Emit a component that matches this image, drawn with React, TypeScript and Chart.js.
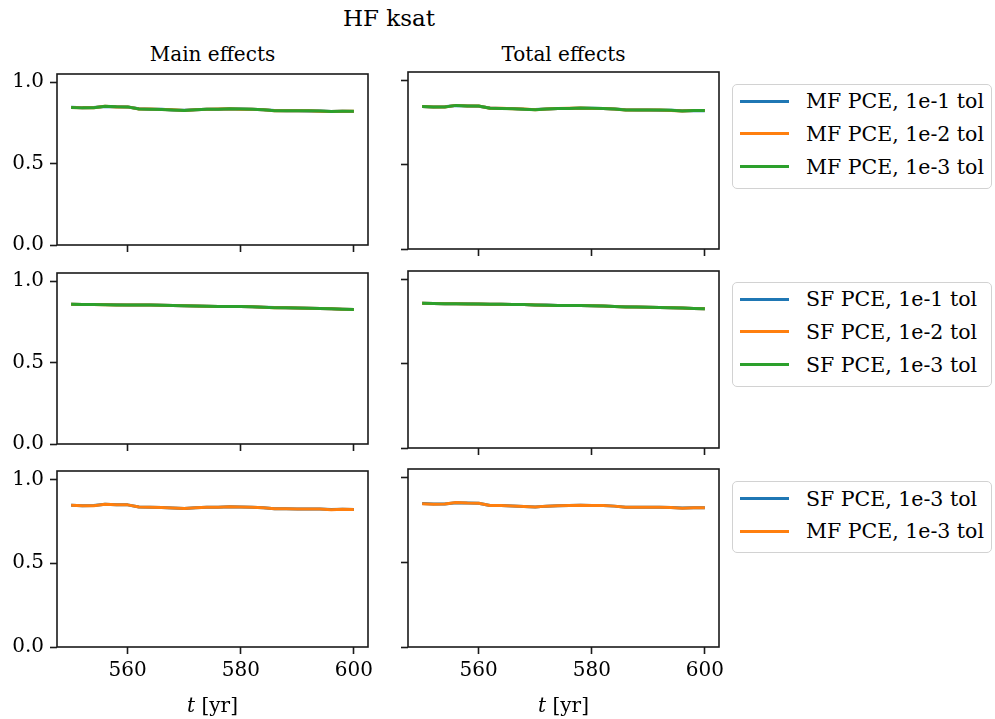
import React, { useEffect, useRef } from "react";
import { Chart, registerables } from "chart.js";

Chart.register(...registerables);

// ---------------- data ----------------
const years = [550, 552, 554, 556, 558, 560, 562, 564, 566, 568, 570, 572, 574, 576, 578, 580, 582, 584, 586, 588, 590, 592, 594, 596, 598, 600];

const mfTol1 = [0.846, 0.843, 0.844, 0.851, 0.849, 0.847, 0.836, 0.834, 0.833, 0.829, 0.827, 0.831, 0.834, 0.834, 0.835, 0.835, 0.833, 0.830, 0.826, 0.825, 0.825, 0.823, 0.823, 0.820, 0.822, 0.820];
const mfTol2 = [0.845, 0.842, 0.843, 0.852, 0.848, 0.848, 0.835, 0.835, 0.832, 0.830, 0.826, 0.830, 0.833, 0.835, 0.836, 0.834, 0.834, 0.831, 0.825, 0.824, 0.824, 0.824, 0.822, 0.819, 0.822, 0.821];
const mfTol3 = [0.845, 0.842, 0.843, 0.852, 0.849, 0.848, 0.835, 0.834, 0.832, 0.829, 0.826, 0.831, 0.833, 0.834, 0.836, 0.835, 0.834, 0.831, 0.825, 0.825, 0.824, 0.824, 0.823, 0.819, 0.822, 0.821];

const sfTol1 = [0.858, 0.857, 0.856, 0.856, 0.855, 0.854, 0.853, 0.853, 0.852, 0.851, 0.849, 0.848, 0.846, 0.845, 0.845, 0.844, 0.843, 0.840, 0.838, 0.836, 0.835, 0.834, 0.832, 0.830, 0.828, 0.826];
const sfTol2 = [0.858, 0.857, 0.856, 0.855, 0.854, 0.854, 0.853, 0.853, 0.852, 0.851, 0.849, 0.847, 0.846, 0.845, 0.845, 0.844, 0.843, 0.840, 0.837, 0.836, 0.835, 0.834, 0.832, 0.830, 0.828, 0.826];
const sfTol3 = [0.858, 0.857, 0.856, 0.855, 0.854, 0.854, 0.853, 0.853, 0.852, 0.851, 0.849, 0.847, 0.846, 0.845, 0.845, 0.844, 0.843, 0.840, 0.837, 0.836, 0.835, 0.834, 0.832, 0.830, 0.828, 0.826];

const cmpSF3 = [0.846, 0.843, 0.844, 0.851, 0.849, 0.848, 0.835, 0.834, 0.832, 0.829, 0.826, 0.831, 0.833, 0.834, 0.836, 0.835, 0.834, 0.831, 0.825, 0.825, 0.824, 0.824, 0.823, 0.820, 0.822, 0.821];
const cmpMF3 = [0.845, 0.842, 0.843, 0.852, 0.849, 0.848, 0.835, 0.834, 0.832, 0.829, 0.826, 0.831, 0.833, 0.834, 0.836, 0.835, 0.834, 0.831, 0.825, 0.825, 0.824, 0.824, 0.823, 0.819, 0.822, 0.821];

const xTicks = [560, 580, 600];
const yTicks = [0, 0.5, 1.0];
const xLimits = [547.5, 602.5];
const yLimits = [0, 1.05];

const figTitle = "HF ksat";
const colTitles = ["Main effects", "Total effects"];

const BLUE = "#1f77b4";
const ORANGE = "#ff7f0e";
const GREEN = "#2ca02c";

type Series = { label: string; data: number[]; color: string };

const rowSeries: Series[][] = [
  [
    { label: "MF PCE, 1e-1 tol", data: mfTol1, color: BLUE },
    { label: "MF PCE, 1e-2 tol", data: mfTol2, color: ORANGE },
    { label: "MF PCE, 1e-3 tol", data: mfTol3, color: GREEN },
  ],
  [
    { label: "SF PCE, 1e-1 tol", data: sfTol1, color: BLUE },
    { label: "SF PCE, 1e-2 tol", data: sfTol2, color: ORANGE },
    { label: "SF PCE, 1e-3 tol", data: sfTol3, color: GREEN },
  ],
  [
    { label: "SF PCE, 1e-3 tol", data: cmpSF3, color: BLUE },
    { label: "MF PCE, 1e-3 tol", data: cmpMF3, color: ORANGE },
  ],
];

// ---------------- layout ----------------
const FONT = "'DejaVu Serif', 'Liberation Serif', serif";
const INK = "#1a1a1a";
const colLeft = [57, 408];
const plotW = 311;
const rowTop = [72, 271, 469];
const rowH = [177, 177, 178];
const Y_AXIS_W = 57;
const PAD_T = 16;
const PAD_R = 22;
const legendTop = [84, 282, 481.3];
const LEG_LEFT = 732;
const LEG_W = 260;
const ROW_GAP = 32.6;
const FIRST_ROW = 17.7;
const LAST_PAD = 21.6;
// DejaVu Serif: baseline sits ~0.84em below top of a line box with line-height = font size
const BASE_K = 0.84;

const framePlugin = {
  id: "frame",
  afterDatasetsDraw(chart: any) {
    const { ctx, chartArea: a } = chart;
    ctx.save();
    ctx.strokeStyle = INK;
    ctx.lineWidth = 1.6;
    ctx.strokeRect(a.left, a.top, a.right - a.left, a.bottom - a.top);
    ctx.restore();
  },
};

function Panel({ row, col }: { row: number; col: number }) {
  const ref = useRef<HTMLCanvasElement>(null);
  const bottomRow = row === 2;
  const leftCol = col === 0;
  const xh = bottomRow ? 50 : 14;
  const W = Y_AXIS_W + plotW + PAD_R;
  const H = PAD_T + rowH[row] + xh;

  useEffect(() => {
    const series = rowSeries[row];
    const chart = new Chart(ref.current as HTMLCanvasElement, {
      type: "line",
      data: {
        datasets: series.map((s, i) => ({
          label: s.label,
          data: years.map((x, j) => ({ x, y: s.data[j] })),
          borderColor: s.color,
          backgroundColor: s.color,
          borderWidth: 3,
          pointRadius: 0,
          tension: 0,
          borderJoinStyle: "round",
          order: series.length - i,
        })),
      },
      options: {
        animation: false,
        responsive: true,
        maintainAspectRatio: false,
        devicePixelRatio: 1,
        events: [],
        layout: { padding: { top: PAD_T, right: PAD_R, left: 0, bottom: 0 } },
        plugins: { legend: { display: false }, tooltip: { enabled: false }, title: { display: false } },
        scales: {
          x: {
            type: "linear",
            min: xLimits[0],
            max: xLimits[1],
            afterBuildTicks: (s: any) => {
              s.ticks = xTicks.map((v) => ({ value: v }));
            },
            afterFit: (s: any) => {
              s.height = xh;
            },
            ticks: {
              display: bottomRow,
              autoSkip: false,
              maxRotation: 0,
              padding: 5,
              color: "#000",
              font: { family: FONT, size: 20 },
              callback: (v: any) => String(v),
            },
            grid: {
              display: true,
              drawOnChartArea: false,
              drawTicks: true,
              tickLength: 7,
              tickWidth: 1.6,
              tickColor: INK,
            },
            border: { display: false },
          },
          y: {
            type: "linear",
            min: yLimits[0],
            max: yLimits[1],
            afterBuildTicks: (s: any) => {
              s.ticks = yTicks.map((v) => ({ value: v }));
            },
            afterFit: (s: any) => {
              s.width = Y_AXIS_W;
            },
            ticks: {
              display: leftCol,
              padding: 6,
              color: "#000",
              font: { family: FONT, size: 20 },
              callback: (v: any) => Number(v).toFixed(1),
            },
            grid: {
              display: true,
              drawOnChartArea: false,
              drawTicks: true,
              tickLength: 7,
              tickWidth: 1.6,
              tickColor: INK,
            },
            border: { display: false },
          },
        },
      } as any,
      plugins: [framePlugin],
    });
    return () => chart.destroy();
  }, [row, col]);

  return (
    <div
      style={{
        position: "absolute",
        left: colLeft[col] - Y_AXIS_W,
        top: rowTop[row] - PAD_T,
        width: W,
        height: H,
      }}
    >
      <canvas ref={ref} style={{ display: "block" }} />
    </div>
  );
}

function Legend({ row }: { row: number }) {
  const series = rowSeries[row];
  const top = legendTop[row];
  const height = FIRST_ROW + (series.length - 1) * ROW_GAP + LAST_PAD;
  const fs = 20.5;
  return (
    <div
      style={{
        position: "absolute",
        left: LEG_LEFT,
        top,
        width: LEG_W,
        height,
        boxSizing: "border-box",
        border: "1.5px solid #d2d2d2",
        borderRadius: 5,
        background: "#fff",
      }}
    >
      {series.map((s, i) => {
        const cy = FIRST_ROW + i * ROW_GAP - 1.5;
        return (
          <React.Fragment key={i}>
            <div
              style={{
                position: "absolute",
                left: 7,
                top: cy - 1.5,
                width: 49,
                height: 3,
                background: s.color,
              }}
            />
            <div
              style={{
                position: "absolute",
                left: 73,
                top: cy + 7.4 - BASE_K * fs,
                fontFamily: FONT,
                fontSize: fs,
                lineHeight: `${fs}px`,
                whiteSpace: "nowrap",
                color: "#000",
              }}
            >
              {s.label}
            </div>
          </React.Fragment>
        );
      })}
    </div>
  );
}

function TextAt({ x, baseline, size, children }: { x: number; baseline: number; size: number; children: React.ReactNode }) {
  return (
    <div
      style={{
        position: "absolute",
        left: x,
        top: baseline - BASE_K * size,
        transform: "translateX(-50%)",
        fontFamily: FONT,
        fontSize: size,
        lineHeight: `${size}px`,
        whiteSpace: "nowrap",
        color: "#000",
      }}
    >
      {children}
    </div>
  );
}

export default function App() {
  const panels: { row: number; col: number }[] = [];
  for (let r = 0; r < 3; r++) for (let c = 0; c < 2; c++) panels.push({ row: r, col: c });
  return (
    <div style={{ position: "absolute", left: 0, top: 0, width: 995, height: 719, background: "#fff", overflow: "hidden" }}>
      <TextAt x={389} baseline={26.7} size={23}>
        {figTitle}
      </TextAt>
      {colTitles.map((t, c) => (
        <TextAt key={t} x={colLeft[c] + plotW / 2} baseline={61} size={20}>
          {t}
        </TextAt>
      ))}
      {panels.map((p) => (
        <Panel key={`${p.row}-${p.col}`} row={p.row} col={p.col} />
      ))}
      {[0, 1].map((c) => (
        <TextAt key={c} x={colLeft[c] + plotW / 2} baseline={711.5} size={20}>
          <i>t</i> [yr]
        </TextAt>
      ))}
      {[0, 1, 2].map((r) => (
        <Legend key={r} row={r} />
      ))}
    </div>
  );
}
